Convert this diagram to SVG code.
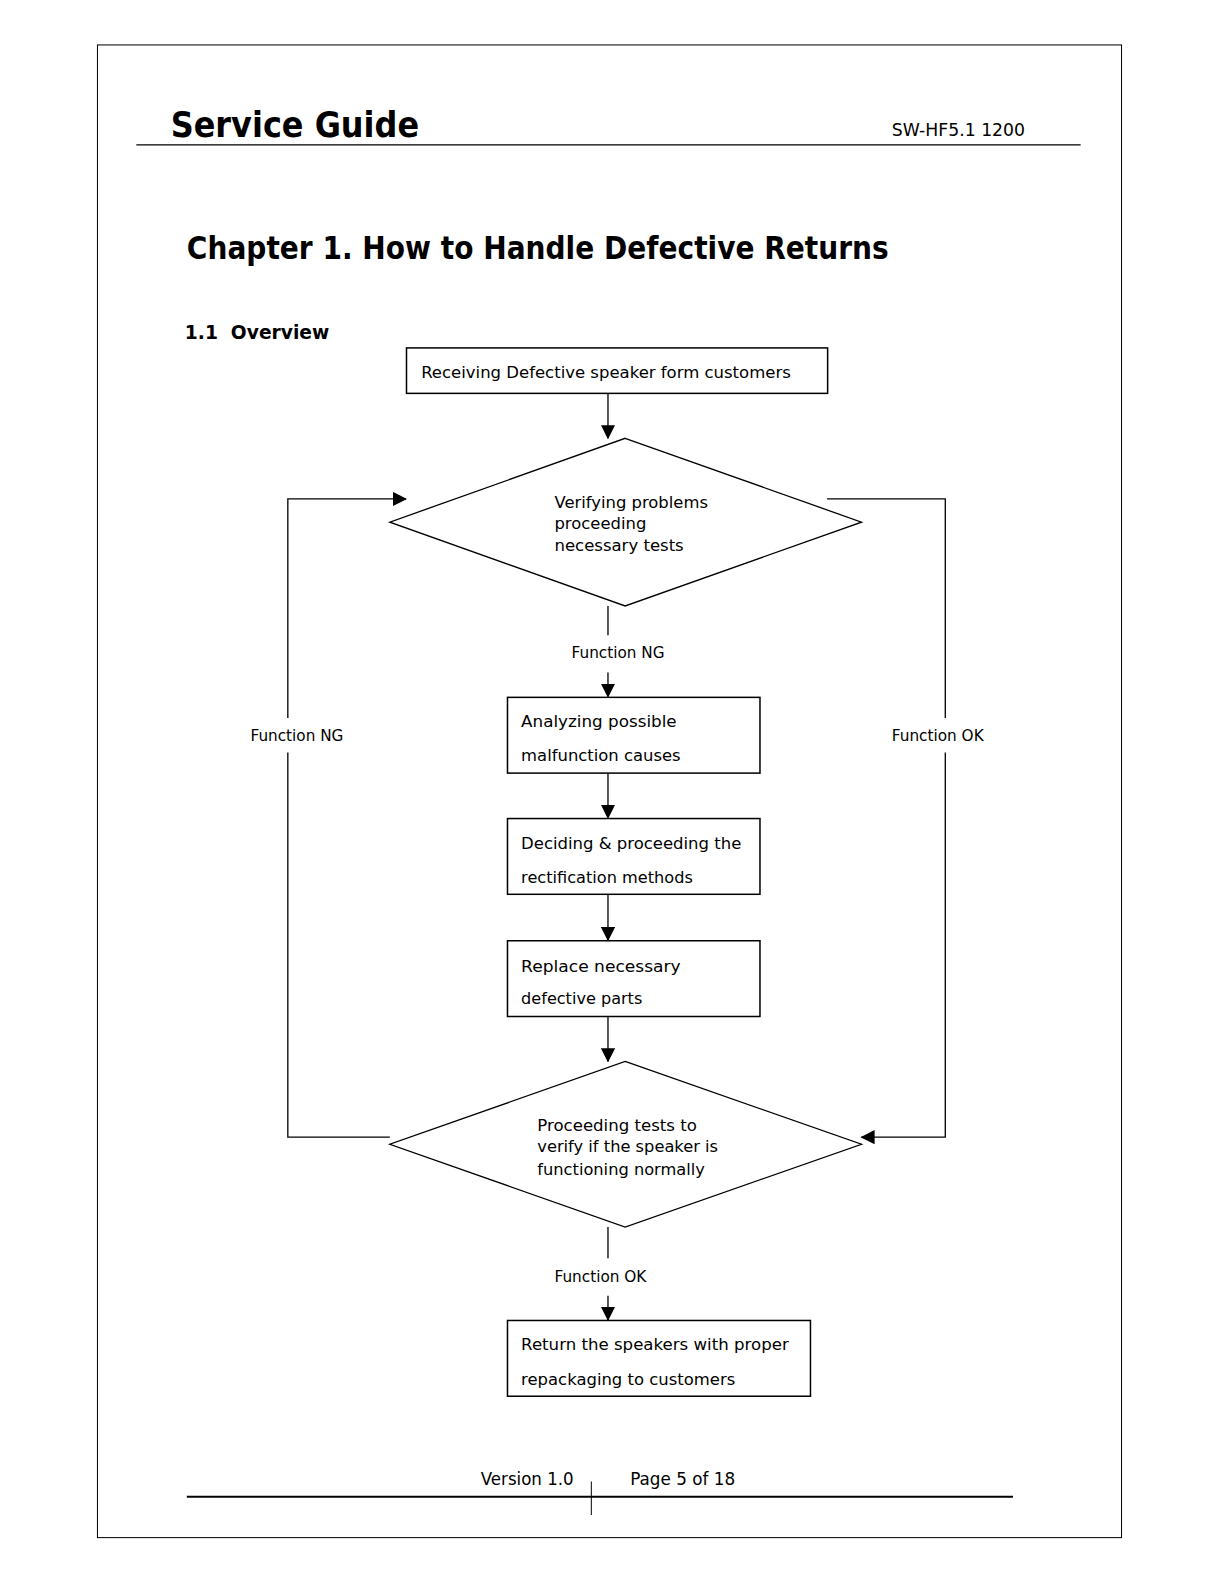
<svg xmlns="http://www.w3.org/2000/svg" width="1220" height="1583" viewBox="0 0 1220 1583">
<style>
text{font-family:"DejaVu Sans","Liberation Sans",sans-serif;fill:#000}
.b{font-size:16.5px}
.l{font-size:15px}
.box{fill:#fff;stroke:#000;stroke-width:1.5}
.dia{fill:#fff;stroke:#000;stroke-width:1.3}
.ln{fill:none;stroke:#000;stroke-width:1.3}
</style>
<defs>
<marker id="ah" markerWidth="14" markerHeight="14" refX="13" refY="7" orient="auto" markerUnits="userSpaceOnUse">
<path d="M0,0 L14,7 L0,14 Z" fill="#000"/>
</marker>
</defs>
<rect width="1220" height="1583" fill="#fff"/>
<g transform="scale(1.00993)">
<g id="page">
<rect x="96.5" y="44.5" width="1014" height="1478" fill="none" stroke="#000" stroke-width="1"/>
<text x="169" y="136" font-size="36" font-weight="bold" textLength="246" lengthAdjust="spacingAndGlyphs">Service Guide</text>
<text x="883" y="135" font-size="17" textLength="132" lengthAdjust="spacingAndGlyphs">SW-HF5.1 1200</text>
<line x1="135" y1="143.5" x2="1070" y2="143.5" stroke="#000" stroke-width="1.3"/>
<text x="185" y="256" font-size="32" font-weight="bold" textLength="695" lengthAdjust="spacingAndGlyphs">Chapter 1. How to Handle Defective Returns</text>
<text x="183" y="336" font-size="20" font-weight="bold" textLength="143" lengthAdjust="spacingAndGlyphs">1.1&#160; Overview</text>
<text x="476" y="1470" font-size="17" textLength="92" lengthAdjust="spacingAndGlyphs">Version 1.0</text>
<text x="624" y="1470" font-size="17" textLength="104" lengthAdjust="spacingAndGlyphs">Page 5 of 18</text>
<line x1="185" y1="1482" x2="1003" y2="1482" stroke="#000" stroke-width="2"/>
<line x1="585.5" y1="1467" x2="585.5" y2="1500" stroke="#000" stroke-width="1"/>
</g>
<g id="connectors">
<line class="ln" x1="602" y1="389" x2="602" y2="434" marker-end="url(#ah)"/>
<polyline class="ln" points="386,1126 285,1126 285,745"/>
<polyline class="ln" points="285,711 285,494 402,494" marker-end="url(#ah)"/>
<polyline class="ln" points="819,494 936,494 936,711"/>
<polyline class="ln" points="936,745 936,1126 853,1126" marker-end="url(#ah)"/>
<line class="ln" x1="602" y1="600" x2="602" y2="629"/>
<line class="ln" x1="602" y1="666" x2="602" y2="690" marker-end="url(#ah)"/>
<line class="ln" x1="602" y1="766" x2="602" y2="810" marker-end="url(#ah)"/>
<line class="ln" x1="602" y1="886" x2="602" y2="931" marker-end="url(#ah)"/>
<line class="ln" x1="602" y1="1006" x2="602" y2="1051" marker-end="url(#ah)"/>
<line class="ln" x1="602" y1="1215" x2="602" y2="1246"/>
<line class="ln" x1="602" y1="1283" x2="602" y2="1307" marker-end="url(#ah)"/>
<text class="l" x="248" y="734" textLength="92" lengthAdjust="spacingAndGlyphs">Function NG</text>
<text class="l" x="883" y="734" textLength="91" lengthAdjust="spacingAndGlyphs">Function OK</text>
<text class="l" x="566" y="652" textLength="92" lengthAdjust="spacingAndGlyphs">Function NG</text>
<text class="l" x="549" y="1269" textLength="91" lengthAdjust="spacingAndGlyphs">Function OK</text>
</g>
<g id="n1">
<rect class="box" x="402.5" y="344.5" width="417" height="45"/>
<text class="b" x="417" y="374" textLength="366" lengthAdjust="spacingAndGlyphs">Receiving Defective speaker form customers</text>
</g>
<g id="n2">
<polygon class="dia" points="619,434 853,517 619,600 386,517"/>
<text class="b" x="549" y="503" textLength="152" lengthAdjust="spacingAndGlyphs">Verifying problems</text>
<text class="b" x="549" y="524" textLength="91" lengthAdjust="spacingAndGlyphs">proceeding</text>
<text class="b" x="549" y="546" textLength="128" lengthAdjust="spacingAndGlyphs">necessary tests</text>
</g>
<g id="n3">
<rect class="box" x="502.5" y="690.5" width="250" height="75"/>
<text class="b" x="516" y="720" textLength="154" lengthAdjust="spacingAndGlyphs">Analyzing possible</text>
<text class="b" x="516" y="754" textLength="158" lengthAdjust="spacingAndGlyphs">malfunction causes</text>
</g>
<g id="n4">
<rect class="box" x="502.5" y="810.5" width="250" height="75"/>
<text class="b" x="516" y="841" textLength="218" lengthAdjust="spacingAndGlyphs">Deciding &amp; proceeding the</text>
<text class="b" x="516" y="874" textLength="170" lengthAdjust="spacingAndGlyphs">rectification methods</text>
</g>
<g id="n5">
<rect class="box" x="502.5" y="931.5" width="250" height="75"/>
<text class="b" x="516" y="962" textLength="158" lengthAdjust="spacingAndGlyphs">Replace necessary</text>
<text class="b" x="516" y="994" textLength="120" lengthAdjust="spacingAndGlyphs">defective parts</text>
</g>
<g id="n6">
<polygon class="dia" points="619,1051 853,1133 619,1215 386,1133"/>
<text class="b" x="532" y="1120" textLength="158" lengthAdjust="spacingAndGlyphs">Proceeding tests to</text>
<text class="b" x="532" y="1141" textLength="179" lengthAdjust="spacingAndGlyphs">verify if the speaker is</text>
<text class="b" x="532" y="1163" textLength="166" lengthAdjust="spacingAndGlyphs">functioning normally</text>
</g>
<g id="n7">
<rect class="box" x="502.5" y="1307.5" width="300" height="75"/>
<text class="b" x="516" y="1337" textLength="265" lengthAdjust="spacingAndGlyphs">Return the speakers with proper</text>
<text class="b" x="516" y="1371" textLength="212" lengthAdjust="spacingAndGlyphs">repackaging to customers</text>
</g>
</g>
</svg>
